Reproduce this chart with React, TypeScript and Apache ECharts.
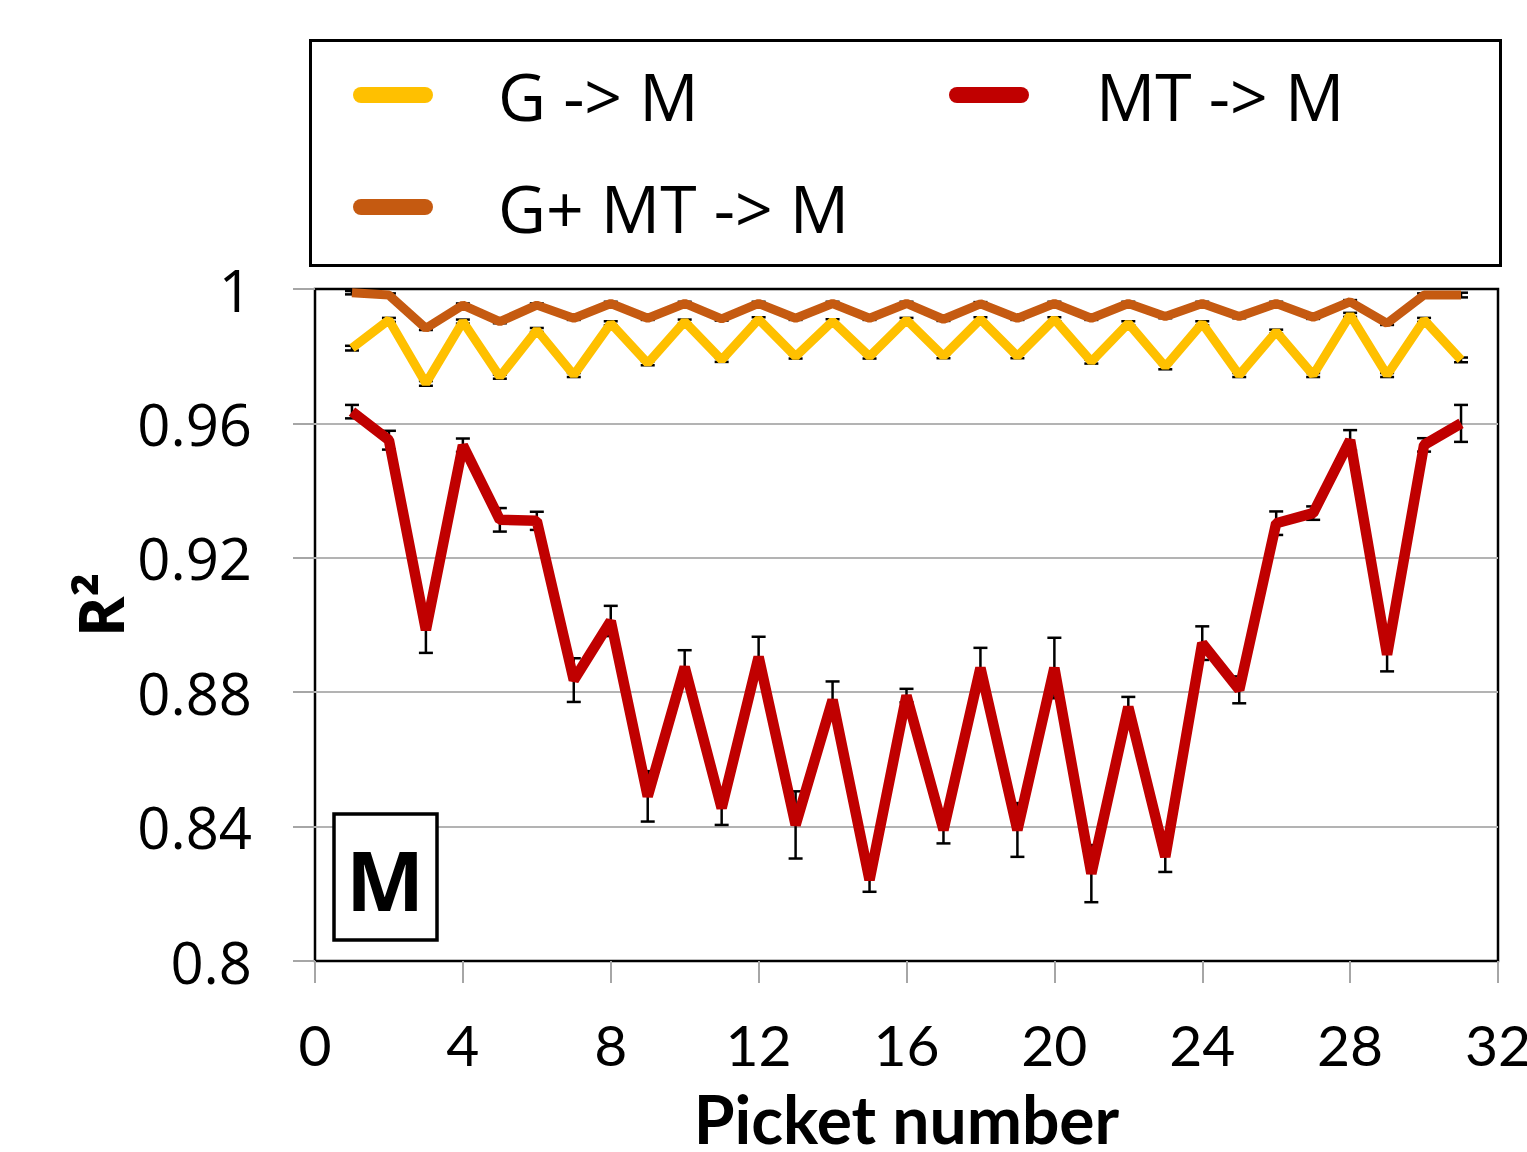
import React, { useEffect, useRef } from "react";
import * as echarts from "echarts";

const pickets = [1, 2, 3, 4, 5, 6, 7, 8, 9, 10, 11, 12, 13, 14, 15, 16, 17, 18, 19, 20, 21, 22, 23, 24, 25, 26, 27, 28, 29, 30, 31];

const gToM = [0.9824, 0.9908, 0.9719, 0.9903, 0.9739, 0.9878, 0.9744, 0.9898, 0.9779, 0.9903, 0.9789, 0.991, 0.9799, 0.9904, 0.9799, 0.9908, 0.98, 0.991, 0.98, 0.991, 0.9784, 0.9898, 0.9769, 0.9898, 0.9744, 0.9873, 0.9744, 0.9923, 0.9744, 0.9908, 0.9789];
const gToMErr = [0.0007, 0.0006, 0.0007, 0.0006, 0.0006, 0.0006, 0.0006, 0.0006, 0.0006, 0.0006, 0.0006, 0.0006, 0.0006, 0.0006, 0.0006, 0.0006, 0.0006, 0.0006, 0.0006, 0.0006, 0.0006, 0.0006, 0.0008, 0.0006, 0.0006, 0.0006, 0.0006, 0.0006, 0.0006, 0.0006, 0.0007];

const mtToM = [0.9635, 0.955, 0.8985, 0.9535, 0.9313, 0.931, 0.8836, 0.9012, 0.849, 0.8875, 0.8455, 0.8905, 0.8405, 0.8777, 0.8241, 0.879, 0.839, 0.8872, 0.839, 0.8872, 0.826, 0.8756, 0.831, 0.8946, 0.8807, 0.9303, 0.9333, 0.955, 0.8912, 0.9536, 0.96];
const mtToMErr = [0.002, 0.0028, 0.0068, 0.002, 0.0035, 0.0027, 0.0065, 0.0045, 0.0075, 0.005, 0.005, 0.006, 0.01, 0.0055, 0.0035, 0.002, 0.004, 0.006, 0.008, 0.009, 0.0085, 0.003, 0.0045, 0.005, 0.004, 0.0035, 0.002, 0.003, 0.005, 0.002, 0.0055];

const gmtToM = [0.9989, 0.9982, 0.9883, 0.9952, 0.9903, 0.9952, 0.9913, 0.9957, 0.9913, 0.9957, 0.9911, 0.9957, 0.9913, 0.9957, 0.9913, 0.9957, 0.991, 0.9956, 0.9913, 0.9957, 0.9913, 0.9957, 0.9918, 0.9957, 0.9918, 0.9957, 0.9916, 0.9962, 0.9898, 0.9982, 0.9982];
const gmtToMErr = [0.0005, 0.0005, 0.0005, 0.0005, 0.0005, 0.0005, 0.0005, 0.0005, 0.0005, 0.0005, 0.0005, 0.0005, 0.0005, 0.0005, 0.0005, 0.0005, 0.0005, 0.0005, 0.0005, 0.0005, 0.0005, 0.0005, 0.0005, 0.0005, 0.0005, 0.0005, 0.0005, 0.0005, 0.0005, 0.0005, 0.0007];

const seriesNames = ["G -> M", "MT -> M", "G+ MT -> M"];
const seriesColors = ["#FFC000", "#C00000", "#C55A11"];

const FONT = "'Open Sans', 'Liberation Sans', sans-serif";
const AXFONT = "Lato, 'Open Sans', sans-serif";
const ICON = "path://M8,0 H72 A8,8 0 0 1 72,16 H8 A8,8 0 0 1 8,0 Z";

function errData(vals: number[], errs: number[]) {
  return pickets.map((p, i) => [p, vals[i] - errs[i], vals[i] + errs[i]]);
}

function errorSeries(vals: number[], errs: number[], z: number) {
  return {
    type: "custom",
    z,
    silent: true,
    data: errData(vals, errs),
    encode: { x: 0, y: [1, 2] },
    renderItem: (params: any, api: any) => {
      const x = api.value(0);
      const lo = api.coord([x, api.value(1)]);
      const hi = api.coord([x, api.value(2)]);
      const w = 7;
      const st = { stroke: "#000", lineWidth: 2.5 };
      return {
        type: "group",
        children: [
          { type: "line", shape: { x1: lo[0], y1: lo[1], x2: hi[0], y2: hi[1] }, style: st },
          { type: "line", shape: { x1: lo[0] - w, y1: lo[1], x2: lo[0] + w, y2: lo[1] }, style: st },
          { type: "line", shape: { x1: hi[0] - w, y1: hi[1], x2: hi[0] + w, y2: hi[1] }, style: st },
        ],
      };
    },
  };
}

function legendFor(name: string, left: number, top: number, pad: number) {
  return {
    data: [name],
    left,
    top,
    padding: 0,
    selectedMode: false,
    icon: ICON,
    itemWidth: 80,
    itemHeight: 16,
    textStyle: {
      fontFamily: FONT,
      fontSize: 66,
      lineHeight: 66,
      color: "#000",
      padding: [0, 0, 0, pad],
    },
  };
}

export default function App() {
  const ref = useRef<HTMLDivElement>(null);
  useEffect(() => {
    if (!ref.current) return;
    const chart = echarts.init(ref.current, null, { renderer: "svg" });
    const lineData = (vals: number[]) => pickets.map((p, i) => [p, vals[i]]);
    chart.setOption({
      animation: false,
      backgroundColor: "#fff",
      grid: {
        left: 315,
        top: 289,
        right: 29,
        bottom: 191,
        outerBoundsMode: "none",
        containLabel: false,
        show: true,
        borderColor: "#000",
        borderWidth: 2.5,
        backgroundColor: "transparent",
      },
      legend: [
        legendFor(seriesNames[0], 353, 62, 60),
        legendFor(seriesNames[1], 949, 62, 62),
        legendFor(seriesNames[2], 353, 174, 60),
      ],
      xAxis: {
        type: "value",
        min: 0,
        max: 32,
        interval: 4,
        name: "Picket number",
        nameLocation: "middle",
        nameGap: 124,
        nameTextStyle: { fontFamily: AXFONT, fontSize: 66, lineHeight: 66, fontWeight: "bold", color: "#000" },
        axisLine: { show: false },
        axisTick: { show: true, length: 22, lineStyle: { color: "#a6a6a6", width: 2 } },
        axisLabel: { fontFamily: AXFONT, fontSize: 57, lineHeight: 57, color: "#000", margin: 54 },
        splitLine: { show: false },
      },
      yAxis: {
        type: "value",
        min: 0.8,
        max: 1,
        interval: 0.04,
        axisLine: { show: false },
        axisTick: { show: true, length: 22, lineStyle: { color: "#a6a6a6", width: 2 } },
        axisLabel: {
          fontFamily: FONT,
          fontSize: 58,
          lineHeight: 58,
          color: "#000",
          margin: 63,
          formatter: (v: number) => String(+v.toFixed(2)),
        },
        splitLine: { show: true, showMinLine: false, showMaxLine: false, lineStyle: { color: "#b3b3b3", width: 2 } },
      },
      graphic: [
        {
          type: "rect",
          left: 308,
          top: 38,
          shape: { width: 1190, height: 225 },
          style: { fill: "none", stroke: "#000", lineWidth: 3 },
          z: 1,
        },
        {
          type: "rect",
          shape: { x: 334, y: 814, width: 103, height: 126 },
          style: { fill: "#fff", stroke: "#000", lineWidth: 3.5 },
          z: 10,
        },
        {
          type: "text",
          x: 385,
          y: 878,
          style: {
            text: "M",
            fontFamily: FONT,
            fontSize: 83,
            fontWeight: "bold",
            fill: "#000",
            align: "center",
            verticalAlign: "middle",
          },
          z: 11,
        },
        {
          type: "text",
          x: 100,
          y: 605,
          rotation: Math.PI / 2,
          style: {
            text: "R²",
            fontFamily: FONT,
            fontSize: 62,
            fontWeight: "bold",
            fill: "#000",
            align: "center",
            verticalAlign: "middle",
          },
          z: 11,
        },
      ],
      series: [
        errorSeries(gToM, gToMErr, 1),
        errorSeries(mtToM, mtToMErr, 1),
        errorSeries(gmtToM, gmtToMErr, 1),
        {
          name: seriesNames[0],
          type: "line",
          z: 3,
          data: lineData(gToM),
          showSymbol: false,
          symbol: "none",
          color: seriesColors[0],
          lineStyle: { color: seriesColors[0], width: 9 },
        },
        {
          name: seriesNames[1],
          type: "line",
          z: 3,
          data: lineData(mtToM),
          showSymbol: false,
          symbol: "none",
          color: seriesColors[1],
          lineStyle: { color: seriesColors[1], width: 10.5 },
        },
        {
          name: seriesNames[2],
          type: "line",
          z: 3,
          data: lineData(gmtToM),
          showSymbol: false,
          symbol: "none",
          color: seriesColors[2],
          lineStyle: { color: seriesColors[2], width: 9 },
        },
      ],
    });
    return () => chart.dispose();
  }, []);
  return (
    <div
      ref={ref}
      style={{ position: "fixed", left: 0, top: 0, width: 1527, height: 1152 }}
    />
  );
}
